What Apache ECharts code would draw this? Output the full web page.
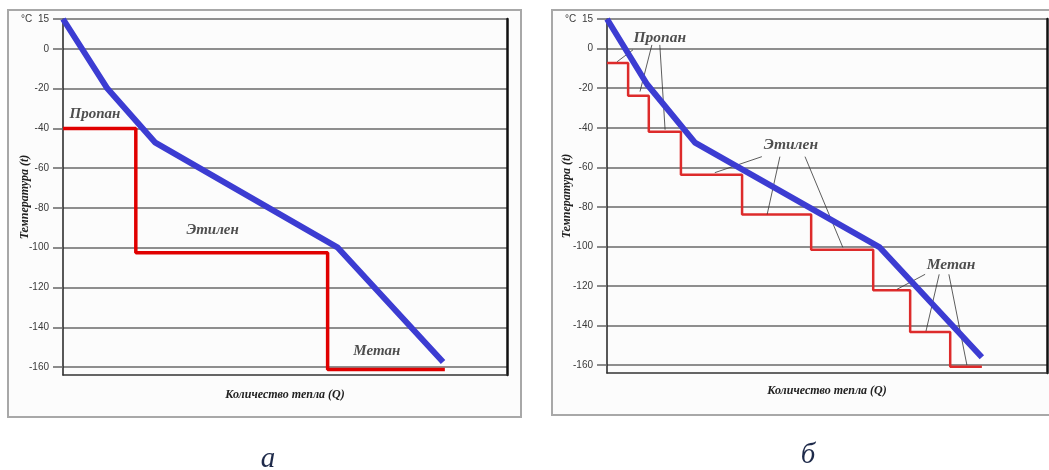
<!DOCTYPE html>
<html><head><meta charset="utf-8">
<script src="https://cdn.jsdelivr.net/npm/echarts@6/dist/echarts.min.js"></script>
<style>html,body{margin:0;padding:0;background:#fff}#c{width:1049px;height:470px}</style>
</head><body><div id="c"></div>
<script>
// ---- shared axis data ----
const yTicks = [15, 0, -20, -40, -60, -80, -100, -120, -140, -160];
const yMin = -164, yMax = 15;
const xMin = 0, xMax = 100;
const yAxisName = 'Температура (t)';
const xAxisName = 'Количество тепла (Q)';
const unitLabel = '°C';
const panelLetters = ['а', 'б'];

// ---- chart а ----
const blueA = [[0, 15], [10, -20], [20.7, -47], [61.9, -100], [85.6, -157.5]];
const redA = [[0, -40], [16.4, -40], [16.4, -102.5], [59.6, -102.5], [59.6, -161.2], [86, -161.2]];
const labelNamesA = ['Пропан', 'Этилен', 'Метан'];
const labelPosA = [[7.2, -33], [33.7, -91], [70.7, -152]];

// ---- chart б ----
const blueB = [[0, 15], [9.1, -18], [20, -47.5], [62, -100.5], [85.2, -156]];
const stepLevelsB = [-7.2, -23.8, -42, -63.7, -83.8, -101.7, -122.2, -143.3, -160.9];
const stepEndsB = [4.8, 9.5, 16.8, 30.7, 46.4, 60.5, 68.9, 78, 85.2];
const labelNamesB = ['Пропан', 'Этилен', 'Метан'];
const labelPosB = [[12, 5.4], [41.8, -48.5], [78.2, -109.6]];
const calloutsB = [
  [[5.9, -0.6], [2.3, -6.6]],
  [[10.2, 1.9], [7.5, -21.7]],
  [[12, 1.9], [13.2, -41]],
  [[35.2, -54.6], [24.5, -62.7]],
  [[39.3, -54.6], [36.4, -83.8]],
  [[45, -54.6], [53.6, -100.5]],
  [[72.3, -114.1], [65.9, -121.7]],
  [[75.5, -114.1], [72.5, -142.8]],
  [[77.7, -114.1], [81.8, -160]]
];

// build step polyline from levels/ends
const redB = [];
let prevX = 0;
stepLevelsB.forEach((lv, i) => {
  redB.push([prevX, lv]);
  redB.push([stepEndsB[i], lv]);
  prevX = stepEndsB[i];
});

const serifBI = {fontFamily: 'Liberation Serif', fontStyle: 'italic', fontWeight: 'bold'};

function yAxisLeft(gi, gap) {
  return {
    gridIndex: gi, type: 'value', min: yMin, max: yMax, position: 'left',
    axisLine: {show: true, onZero: false, lineStyle: {color: '#222', width: 1.5}},
    axisTick: {show: true, length: 10, customValues: yTicks, lineStyle: {color: '#666', width: 1.5}},
    axisLabel: {customValues: yTicks, margin: 14, fontSize: 10, color: '#3a3a3a', fontFamily: 'Liberation Sans',
      formatter: v => (v === yTicks[0] ? unitLabel + '  ' + v : String(v))},
    splitLine: {show: true, lineStyle: {color: '#6a6a6a', width: 1.5}},
    name: yAxisName, nameLocation: 'middle', nameGap: gap, nameMoveOverlap: false,
    nameTextStyle: Object.assign({fontSize: 12, color: '#222'}, serifBI)
  };
}
function yAxisRight(gi) {
  return {
    gridIndex: gi, type: 'value', min: yMin, max: yMax, position: 'right',
    axisLine: {show: true, onZero: false, lineStyle: {color: '#111', width: 2.5}},
    axisTick: {show: false}, axisLabel: {show: false}, splitLine: {show: false}
  };
}
function xAxisDef(gi, gap) {
  return {
    gridIndex: gi, type: 'value', min: xMin, max: xMax,
    axisLine: {show: true, onZero: false, lineStyle: {color: '#333', width: 1.5}},
    axisTick: {show: false}, axisLabel: {show: false}, splitLine: {show: false},
    name: xAxisName, nameLocation: 'middle', nameGap: gap, nameMoveOverlap: false,
    nameTextStyle: Object.assign({fontSize: 12, color: '#222'}, serifBI)
  };
}
function lineS(xi, yi, data, color, width, z) {
  return {type: 'line', xAxisIndex: xi, yAxisIndex: yi, data: data, showSymbol: false, symbol: 'none',
    lineStyle: {color: color, width: width}, z: z, silent: true, animation: false};
}
function labelS(xi, yi, names, pos, size) {
  return {type: 'scatter', xAxisIndex: xi, yAxisIndex: yi, symbolSize: 0, silent: true, animation: false, z: 5,
    data: names.map((n, i) => ({name: n, value: pos[i]})),
    label: {show: true, position: 'inside', formatter: p => p.name,
      fontSize: size, color: '#222', fontFamily: 'Liberation Serif', fontStyle: 'italic', fontWeight: 'bold'}};
}

const series = [
  lineS(0, 0, redA, '#e00000', 3.5, 3),
  lineS(0, 0, blueA, '#3c3cd2', 6, 4),
  labelS(0, 0, labelNamesA, labelPosA, 15),
  lineS(1, 1, redB, '#dd2b2b', 2.5, 3)
];
calloutsB.forEach(seg => series.push(lineS(1, 1, seg, '#333', 0.8, 3)));
series.push(lineS(1, 1, blueB, '#3c3cd2', 6, 4));
series.push(labelS(1, 1, labelNamesB, labelPosB, 15.5));

const chart = echarts.init(document.getElementById('c'), null, {renderer: 'canvas'});
chart.setOption({
  backgroundColor: '#ffffff',
  animation: false,
  graphic: [
    {type: 'rect', z: -10, shape: {x: 8, y: 10, width: 513, height: 407}, style: {fill: '#fcfcfc', stroke: '#a8a8a8', lineWidth: 2}},
    {type: 'rect', z: -10, shape: {x: 552, y: 10, width: 510, height: 405}, style: {fill: '#fcfcfc', stroke: '#a8a8a8', lineWidth: 2}},
    {type: 'text', x: 268, y: 459, style: {text: panelLetters[0], fontSize: 29, fontFamily: 'Liberation Serif', fontStyle: 'italic', fill: '#1e2a4a', align: 'center', verticalAlign: 'middle'}},
    {type: 'text', x: 808, y: 455, style: {text: panelLetters[1], fontSize: 29, fontFamily: 'Liberation Serif', fontStyle: 'italic', fill: '#1e2a4a', align: 'center', verticalAlign: 'middle'}}
  ],
  grid: [
    {left: 63, top: 19, width: 444, height: 356},
    {left: 607, top: 19, width: 440, height: 354}
  ],
  xAxis: [xAxisDef(0, 14), xAxisDef(1, 12)],
  yAxis: [yAxisLeft(0, 32), yAxisLeft(1, 34), yAxisRight(0), yAxisRight(1)],
  series: series
});
</script>
</body></html>
